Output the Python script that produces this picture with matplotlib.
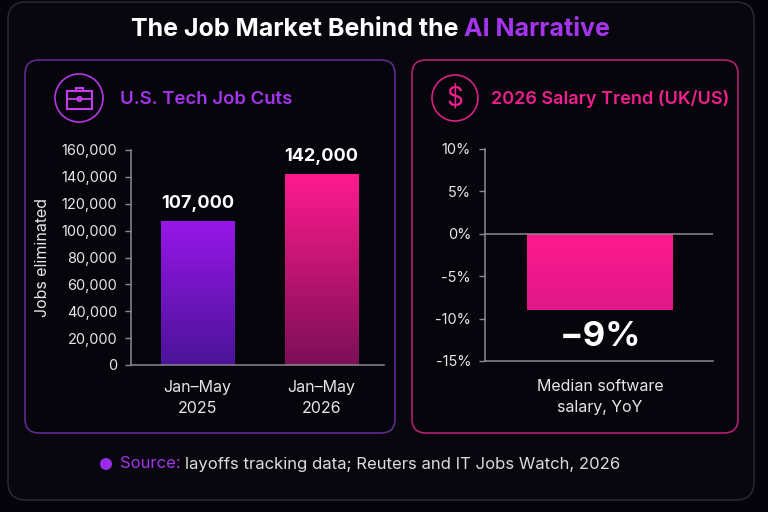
import matplotlib
matplotlib.use('Agg')
import matplotlib.pyplot as plt
from matplotlib.patches import FancyBboxPatch, Circle, Rectangle
import numpy as np

plt.rcParams['font.family'] = ['Inter', 'DejaVu Sans']

# data
periods = ['Jan–May\n2025', 'Jan–May\n2026']
job_cuts = [107000, 142000]
job_labels = ['107,000', '142,000']
job_ticks = [0, 20000, 40000, 60000, 80000, 100000, 120000, 140000, 160000]

salary_cats = ['Median software\nsalary, YoY']
salary_change = [-9]
salary_labels = ['−9%']
salary_ticks = [-15, -10, -5, 0, 5, 10]

BG = '#05040a'
PANEL = '#08070d'
PURPLE = '#a535ec'
PINK = '#f01f90'
GRAY = '#8a8a92'
TXT = '#e6e6ea'

W, H = 768, 512
fig = plt.figure(figsize=(W / 100, H / 100), dpi=100, facecolor=BG)

# background layer in pixel coordinates
bg = fig.add_axes([0, 0, 1, 1], zorder=0)
bg.set_xlim(0, W)
bg.set_ylim(H, 0)
bg.axis('off')


def rbox(x0, y0, x1, y1, ec, fc, r=14, lw=1.2):
    bg.add_patch(FancyBboxPatch((x0, y0), x1 - x0, y1 - y0,
                                boxstyle='round,pad=0,rounding_size=%d' % r,
                                ec=ec, fc=fc, lw=lw))


rbox(8, 2, 754, 500, '#2a2535', PANEL, r=18)
rbox(25, 60, 395, 433, '#5e2a8e', '#06050b', r=14)
rbox(412, 60, 738, 433, '#b81c74', '#06050b', r=14)

# icons
bg.add_patch(Circle((79, 98), 24, fc='none', ec='#b536e6', lw=1.2))
bg.add_patch(Rectangle((67, 91), 25, 18, fc='none', ec='#c43cf0', lw=1.5))
bg.add_patch(Rectangle((75.5, 87.5), 7.5, 3.5, fc='none', ec='#c43cf0', lw=1.5))
bg.plot([67, 92], [98.5, 98.5], color='#c43cf0', lw=1.3)
bg.add_patch(Circle((79.5, 99), 2.2, fc='#06050b', ec='#c43cf0', lw=1.3))

bg.add_patch(Circle((455, 98), 23, fc='none', ec='#d81f86', lw=1.2))
bg.text(455, 99, '$', color=PINK, fontsize=19, ha='center', va='center')

# panel titles
bg.text(120, 99, 'U.S. Tech Job Cuts', color=PURPLE, fontsize=13.4,
        fontweight='semibold', ha='left', va='center')
bg.text(491, 99, '2026 Salary Trend (UK/US)', color=PINK, fontsize=13,
        fontweight='semibold', ha='left', va='center')

# main title in two colours
fig.canvas.draw()
r = fig.canvas.get_renderer()
t1 = bg.text(131, 29, 'The Job Market Behind the ', color='white', fontsize=18,
             fontweight='bold', ha='left', va='center')
bb = t1.get_window_extent(renderer=r)
bg.text(131 + bb.width, 29, 'AI Narrative', color=PURPLE, fontsize=18,
        fontweight='bold', ha='left', va='center')

# source line
bg.add_patch(Circle((106, 464), 6, fc='#9a2be8', ec='none'))
t2 = bg.text(120, 464, 'Source:', color=PURPLE, fontsize=12, ha='left', va='center')
bb2 = t2.get_window_extent(renderer=r)
bg.text(120 + bb2.width + 4, 464, 'layoffs tracking data; Reuters and IT Jobs Watch, 2026',
        color='#dcdce0', fontsize=12, ha='left', va='center')


def px_axes(x0, y0, x1, y1):
    a = fig.add_axes([x0 / W, 1 - y1 / H, (x1 - x0) / W, (y1 - y0) / H], zorder=2)
    a.set_facecolor('none')
    for s in ['top', 'right']:
        a.spines[s].set_visible(False)
    for s in ['left', 'bottom']:
        a.spines[s].set_color(GRAY)
        a.spines[s].set_linewidth(1.1)
    a.tick_params(colors=GRAY, labelcolor=TXT, length=4, width=1)
    return a


def gradient_bar(a, patch, top, bottom):
    patch.set_facecolor('none')
    patch.set_edgecolor('none')
    x, y = patch.get_x(), patch.get_y()
    w, h = patch.get_width(), patch.get_height()
    c0 = np.array(matplotlib.colors.to_rgb(top))
    c1 = np.array(matplotlib.colors.to_rgb(bottom))
    t = np.linspace(0, 1, 256)[:, None]
    img = (c0 * (1 - t) + c1 * t)[:, None, :]
    y_lo, y_hi = min(y, y + h), max(y, y + h)
    im = a.imshow(img, extent=(x, x + w, y_lo, y_hi), origin='upper',
                  aspect='auto', zorder=2)
    im.set_clip_path(patch)


# left chart
ax1 = px_axes(131, 150, 384, 365)
xs = np.arange(len(periods))
bars = ax1.bar(xs, job_cuts, width=0.59, zorder=2)
ax1.set_xlim(-0.536, 1.504)
ax1.set_ylim(0, 160000)
ax1.set_yticks(job_ticks)
ax1.set_yticklabels(['{:,}'.format(v) for v in job_ticks], fontsize=10.5)
ax1.set_xticks(xs)
ax1.set_xticklabels(periods, fontsize=11.5, linespacing=1.5)
ax1.tick_params(axis='x', length=0, pad=11)
ax1.tick_params(axis='y', pad=6)
gradient_bar(ax1, bars[0], '#9716e8', '#4a1398')
gradient_bar(ax1, bars[1], '#ff1a8e', '#7c0f56')
for b, lab in zip(bars, job_labels):
    ax1.annotate(lab, (b.get_x() + b.get_width() / 2, b.get_height()),
                 xytext=(0, 6.5), textcoords='offset points', ha='center',
                 va='bottom', color='white', fontsize=13, fontweight='bold')
ax1.set_ylabel('Jobs eliminated', color=TXT, fontsize=11.5)
ax1.yaxis.set_label_coords(-0.322, 0.5)
ax1.set_ylim(0, 160000)

# right chart
ax2 = px_axes(485, 149, 713, 361)
bars2 = ax2.bar([0], salary_change, width=1, zorder=2)
ax2.set_xlim(-0.788, 0.774)
ax2.set_ylim(-15, 10)
ax2.set_yticks(salary_ticks)
ax2.set_yticklabels(['{}%'.format(v) for v in salary_ticks], fontsize=10.5)
ax2.set_xticks([0])
ax2.set_xticklabels(salary_cats, fontsize=11.5, linespacing=1.5)
ax2.tick_params(axis='x', length=0, pad=13)
ax2.tick_params(axis='y', pad=6)
ax2.axhline(0, color=GRAY, lw=1.1, zorder=3)
gradient_bar(ax2, bars2[0], '#ff1a8e', '#e0188a')
for b, lab in zip(bars2, salary_labels):
    ax2.annotate(lab, (b.get_x() + b.get_width() / 2, b.get_height()),
                 xytext=(0, -8), textcoords='offset points', ha='center',
                 va='top', color='white', fontsize=25, fontweight='bold')
ax2.set_ylim(-15, 10)

fig.savefig('out.png', dpi=100, facecolor=BG)
